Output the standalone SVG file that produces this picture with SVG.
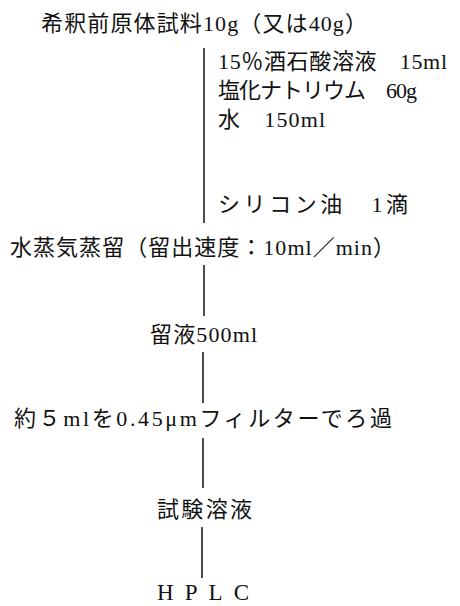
<svg xmlns="http://www.w3.org/2000/svg" width="460" height="606" viewBox="0 0 460 606">
<style>
text{font-family:"Liberation Serif","Noto Sans CJK JP",serif;font-size:22px;fill:#111}
.c line{stroke:#111;stroke-width:1.5}
</style>
<rect width="460" height="606" fill="#fff"/>
<g class="c" id="connectors">
<line x1="204" y1="48" x2="204" y2="223"/>
<line x1="204" y1="265" x2="204" y2="316"/>
<line x1="203" y1="352" x2="203" y2="403"/>
<line x1="203" y1="438" x2="203" y2="488"/>
<line x1="202" y1="527" x2="202" y2="578"/>
</g>
<g id="sample"><text x="41" y="31" textLength="326">希釈前原体試料10g（又は40g）</text></g>
<g id="reagents">
<text x="218" y="69" textLength="229">15％酒石酸溶液　15ml</text>
<text x="218" y="98" textLength="199">塩化ナトリウム　60g</text>
<text x="218" y="127" textLength="107">水　150ml</text>
<text x="218" y="212" textLength="190">シリコン油　1滴</text>
</g>
<g id="distill"><text x="10" y="255" textLength="385">水蒸気蒸留（留出速度：10ml／min）</text></g>
<g id="distillate"><text x="150" y="342" textLength="107">留液500ml</text></g>
<g id="filter"><text x="14" y="426" textLength="378">約５mlを0.45μmフィルターでろ過</text></g>
<g id="testsol"><text x="157" y="517" textLength="95">試験溶液</text></g>
<g id="hplc"><text x="157" y="600" textLength="92" style="font-size:23px">HPLC</text></g>
</svg>
